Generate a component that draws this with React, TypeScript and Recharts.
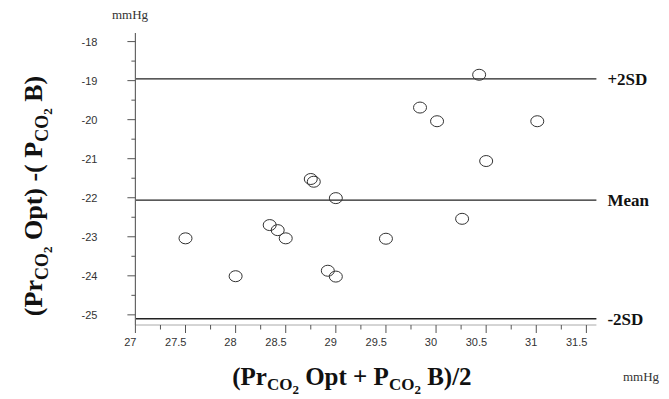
import React from "react";
import {
  ScatterChart,
  Scatter,
  XAxis,
  YAxis,
  ReferenceLine,
} from "recharts";

// mean of the two methods (x) and their difference (y), mmHg
const avgValues = [
  27.5, 28.0, 28.34, 28.42, 28.5, 28.75, 28.78, 29.0, 28.92, 29.0, 29.5,
  29.84, 30.01, 30.43, 30.5, 30.26, 31.01,
];
const diffValues = [
  -23.04, -24.01, -22.7, -22.83, -23.04, -21.52, -21.59, -22.01, -23.87,
  -24.02, -23.05, -19.69, -20.04, -18.85, -21.06, -22.54, -20.04,
];

const meanDiff = -22.06;
const upperLimit = -18.955;
const lowerLimit = -25.1;

const xTicks = [
  27, 27.25, 27.5, 27.75, 28, 28.25, 28.5, 28.75, 29, 29.25, 29.5, 29.75, 30,
  30.25, 30.5, 30.75, 31, 31.25, 31.5,
];
const yTicks = [
  -25, -24.5, -24, -23.5, -23, -22.5, -22, -21.5, -21, -20.5, -20, -19.5, -19,
  -18.5, -18,
];

const data = avgValues.map((x, i) => ({ x, y: diffValues[i] }));

const tickFont = { fontFamily: "'Liberation Sans', Arial, sans-serif", fontSize: 11, fill: "#333" };
const titleFont = "'Liberation Serif', 'Times New Roman', serif";

const isMajorX = (v: number) => Math.abs(v * 2 - Math.round(v * 2)) < 1e-6;
const isMajorY = (v: number) => Math.abs(v - Math.round(v)) < 1e-6;

function XTick(props: any) {
  const { x, y, payload } = props;
  const v = payload.value as number;
  const major = isMajorX(v);
  return (
    <g>
      <line x1={x} x2={x} y1={y} y2={y + (major ? 8 : 4.5)} stroke="#555" strokeWidth={1} />
      {major && (
        <text x={x + 1} y={y + 21} textAnchor="end" {...tickFont}>
          {String(v)}
        </text>
      )}
    </g>
  );
}

function YTick(props: any) {
  const { x, y, payload } = props;
  const v = payload.value as number;
  const major = isMajorY(v);
  return (
    <g>
      <line x1={x - (major ? 8 : 4)} x2={x} y1={y} y2={y} stroke="#555" strokeWidth={1} />
      {major && (
        <text x={x - 38} y={y + 4} textAnchor="end" {...tickFont}>
          {String(v)}
        </text>
      )}
    </g>
  );
}

function XTitle(props: any) {
  const vb = props.viewBox || { x: 135, width: 461 };
  const cx = vb.x + vb.width / 2 - 14;
  return (
    <g>
      <text x={cx} y={385} textAnchor="middle" fontFamily={titleFont} fontWeight="bold" fontSize={25} fill="#111">
        <tspan>(Pr</tspan>
        <tspan dy={5} fontSize={17}>CO</tspan>
        <tspan dy={3.5} fontSize={13}>2</tspan>
        <tspan dy={-8.5}> Opt + P</tspan>
        <tspan dy={5} fontSize={17}>CO</tspan>
        <tspan dy={3.5} fontSize={13}>2</tspan>
        <tspan dy={-8.5}> B)/2</tspan>
      </text>
      <text x={641} y={381} textAnchor="middle" fontFamily={titleFont} fontSize={13} fill="#333">
        mmHg
      </text>
    </g>
  );
}

function YTitle() {
  return (
    <g>
      <text
        x={0}
        y={0}
        transform="translate(42,196) rotate(-90)"
        textAnchor="middle"
        fontFamily={titleFont}
        fontWeight="bold"
        fontSize={26}
        fill="#111"
      >
        <tspan>(Pr</tspan>
        <tspan dy={6} fontSize={18}>CO</tspan>
        <tspan dy={4} fontSize={13}>2</tspan>
        <tspan dy={-10}> Opt) -( P</tspan>
        <tspan dy={6} fontSize={18}>CO</tspan>
        <tspan dy={4} fontSize={13}>2</tspan>
        <tspan dy={-10}> B)</tspan>
      </text>
      <text x={130} y={19} textAnchor="middle" fontFamily={titleFont} fontSize={13} fill="#333">
        mmHg
      </text>
    </g>
  );
}

const Ring = (props: any) => (
  <ellipse cx={props.cx} cy={props.cy} rx={6.5} ry={5.5} fill="none" stroke="#333" strokeWidth={1} />
);

const refLabel = (value: string) => ({
  value,
  position: "right" as const,
  offset: 11,
  fill: "#111",
  fontSize: 17,
  fontWeight: "bold",
  fontFamily: titleFont,
});

export default function App() {
  return (
    <div style={{ position: "absolute", left: 0, top: 0, width: 669, height: 399, background: "#fff" }}>
      <ScatterChart
        width={669}
        height={399}
        margin={{ top: 33, right: 72.6, bottom: 44, left: 75.4 }}
      >
        <XAxis
          type="number"
          dataKey="x"
          domain={[27, 31.6]}
          ticks={xTicks}
          interval={0}
          allowDataOverflow
          height={30}
          tickSize={0}
          tickMargin={0}
          tickLine={false}
          axisLine={{ stroke: "#aaa", strokeWidth: 1 }}
          tick={<XTick />}
          label={<XTitle />}
        />
        <YAxis
          type="number"
          dataKey="y"
          domain={[-25.26, -17.78]}
          ticks={yTicks}
          interval={0}
          allowDataOverflow
          width={60}
          tickSize={0}
          tickMargin={0}
          tickLine={false}
          axisLine={{ stroke: "#666", strokeWidth: 1.2 }}
          tick={<YTick />}
          label={<YTitle />}
        />
        <ReferenceLine y={upperLimit} stroke="#222" strokeWidth={1.3} label={refLabel("+2SD")} />
        <ReferenceLine y={meanDiff} stroke="#222" strokeWidth={1.3} label={refLabel("Mean")} />
        <ReferenceLine y={lowerLimit} stroke="#222" strokeWidth={1.3} label={refLabel("-2SD")} />
        <Scatter data={data} shape={<Ring />} isAnimationActive={false} />
      </ScatterChart>
    </div>
  );
}
